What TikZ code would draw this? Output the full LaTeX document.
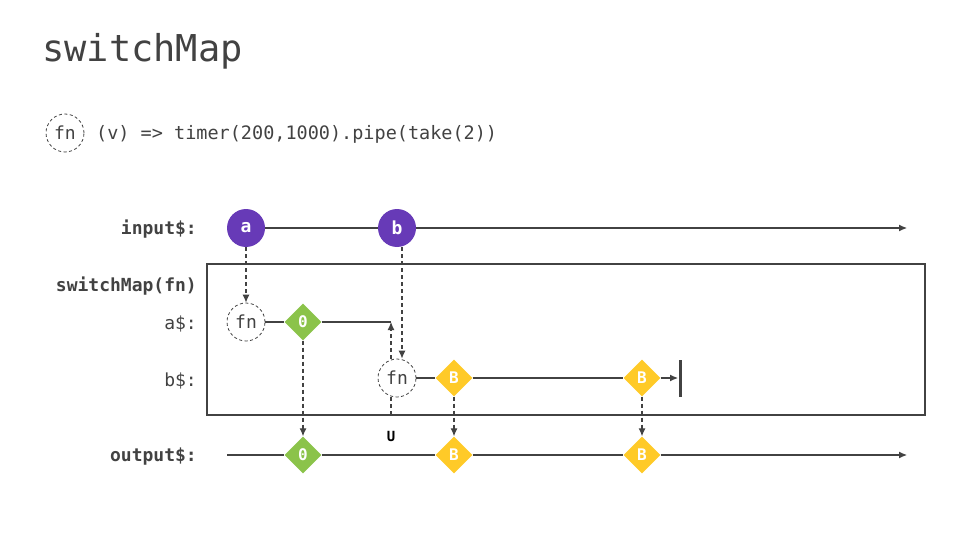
\documentclass[tikz,border=0pt]{standalone}
\usepackage{fontspec}
\setmainfont{DejaVu Sans Mono}
\setmonofont{DejaVu Sans Mono}
\usetikzlibrary{shapes.geometric,arrows.meta}
\definecolor{ink}{HTML}{424242}
\definecolor{purp}{HTML}{673AB7}
\definecolor{lime}{HTML}{8BC34A}
\definecolor{amber}{HTML}{FFCA28}

\tikzset{
  line/.style={draw=ink, line width=1.1pt},
  arr/.style={line, -{Latex[length=8pt,width=7pt]}},
  darr/.style={arr, dash pattern=on 4pt off 3pt},
  dline/.style={line, dash pattern=on 4pt off 3pt},
  marble/.style={circle, fill=purp, minimum size=38pt, inner sep=0pt,
    text=white, font=\fontsize{18}{18}\selectfont\bfseries},
  fnbox/.style={circle, draw=ink, dash pattern=on 3pt off 2.5pt, line width=0.8pt,
    fill=white, minimum size=38pt, inner sep=0pt, text=ink,
    font=\fontsize{18}{18}\selectfont},
  gem/.style={diamond, minimum width=37pt, minimum height=37pt, inner sep=0pt,
    text=white, font=\fontsize{16}{16}\selectfont\bfseries},
  lbl/.style={anchor=base east, inner sep=0pt, text=ink, font=\fontsize{18}{18}\selectfont},
  blbl/.style={lbl, font=\fontsize{18}{18}\selectfont\bfseries},
}

\begin{document}
\begin{tikzpicture}[x=1pt, y=-1pt]
\path[use as bounding box] (0,0) rectangle (960,540);

% heading and legend
\node[anchor=base west, text=ink, font=\fontsize{37}{37}\selectfont, inner sep=0pt]
  (title) at (42,62) {switchMap};
\node[fnbox] (legendfn) at (65,133) {fn};
\node[anchor=base west, text=ink, font=\fontsize{18.5}{18.5}\selectfont, inner sep=0pt]
  (legendtxt) at (96,140) {(v) => timer(200,1000).pipe(take(2))};

% row labels
\node[blbl] (linput) at (197,234) {input\$:};
\node[blbl] (lswitch) at (197,291) {switchMap(fn)};
\node[lbl] (la) at (197,329) {a\$:};
\node[lbl] (lb) at (197,386) {b\$:};
\node[blbl] (lout) at (197,461) {output\$:};

% operator frame
\draw[line] (207,264) rectangle (925,415);

% input stream
\node[marble] (a) at (246,228) {a};
\node[marble] (b) at (397,228) {b};
\coordinate (inEnd) at (907,228);
\draw[line] (a) -- (b);
\draw[arr] (b) -- (inEnd);

% inner stream a$
\node[fnbox] (fnA) at (246,322) {fn};
\node[gem, fill=lime] (g0) at (303,322) {0};
\coordinate (aEnd) at (391,322);
\draw[darr] (a) -- (fnA);
\draw[line] (fnA) -- (g0);
\draw[line] (g0) -- (aEnd);

% inner stream b$
\node[fnbox] (fnB) at (397,378) {fn};
\node[gem, fill=amber] (gB1) at (454,378) {B};
\node[gem, fill=amber] (gB2) at (642,378) {B};
\coordinate (bEnd) at (678,378);
\coordinate (barTop) at (680,360);
\coordinate (barBot) at (680,397);
\draw[darr] ([xshift=5pt]b.south) -- ([xshift=5pt]fnB.north);
\draw[darr] ([xshift=-6pt]fnB.north) -- (aEnd);
\coordinate (uMark) at (391,415);
\draw[dline] ([xshift=-6pt]fnB.south) -- (uMark);
\node[text=black, font=\fontsize{14}{14}\selectfont\bfseries] (u) at (391,436) {U};
\draw[line] (fnB) -- (gB1) -- (gB2);
\draw[arr] (gB2) -- (bEnd);
\draw[draw=ink, line width=3pt] (barTop) -- (barBot);

% output stream
\coordinate (outStart) at (227,455);
\coordinate (outEnd) at (907,455);
\node[gem, fill=lime] (o0) at (303,455) {0};
\node[gem, fill=amber] (oB1) at (454,455) {B};
\node[gem, fill=amber] (oB2) at (642,455) {B};
\draw[line] (outStart) -- (o0) -- (oB1) -- (oB2);
\draw[arr] (oB2) -- (outEnd);
\draw[darr] (g0) -- (o0);
\draw[darr] (gB1) -- (oB1);
\draw[darr] (gB2) -- (oB2);
\end{tikzpicture}
\end{document}
